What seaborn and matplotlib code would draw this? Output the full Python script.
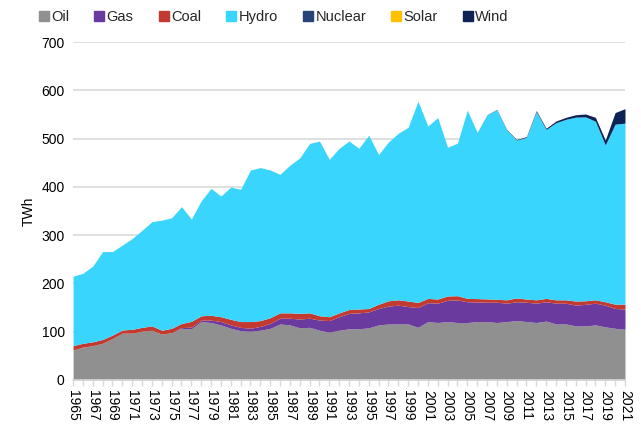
import matplotlib
matplotlib.use("Agg")
import matplotlib.pyplot as plt
from matplotlib.lines import Line2D
import seaborn as sns
import numpy as np

years = list(range(1965, 2022))

oil = [62, 68, 71, 76, 86, 97, 97, 101, 103, 95, 98, 107, 106, 121, 119, 114, 107, 102, 101, 103,
       107, 116, 114, 108, 109, 103, 99, 103, 106, 106, 108, 114, 116, 116, 116, 109, 121, 119, 121, 119,
       119, 121, 121, 119, 121, 123, 121, 119, 122, 116, 116, 112, 112, 114, 110, 107, 105]
gas = [0, 0, 0, 0, 0, 0, 0, 0, 0, 0, 0, 1.5, 3.4, 3, 5, 7, 7, 7, 6, 8,
       10, 12, 14, 18, 19, 21, 24, 28, 32, 33, 33, 34, 37, 39, 36, 41, 39, 40, 44, 46.6,
       43, 40.5, 40, 42, 38, 39, 40, 40, 40, 43, 43, 43, 44.6, 45, 45, 41, 42]
coal = [9, 8, 8, 8, 7, 6.5, 8, 8, 9, 8, 9, 8.5, 12, 9, 10, 10, 11.6, 12, 14, 12,
        12, 11, 11, 12, 11, 9, 8, 8, 8, 8, 7, 9, 11, 11, 11.5, 10.5, 9, 8.6, 9, 9,
        7, 7, 7, 6, 7, 8, 6.6, 7, 7, 7, 7, 8.5, 7.4, 7, 7, 9, 10]
hydro = [144, 145, 157, 182, 173, 176, 188, 201, 216, 228, 229, 242, 212, 238, 263, 250, 274, 274, 314, 317,
         306, 287, 306, 322, 351, 362, 326, 341, 349, 333, 359, 310, 329, 345, 360, 417, 357, 376, 308, 316,
         390, 344, 381, 393, 352, 327, 335, 390, 350, 367, 374, 381, 381, 370, 325, 373, 375]
nuclear = [0] * 57
solar = [0] * 57
wind = [0] * 41 + [0.2, 0.5, 0.6, 1, 1.2, 1.5, 2, 2.5, 3.5, 4, 5, 6, 8, 10, 24, 30]

labels = ["Oil", "Gas", "Coal", "Hydro", "Nuclear", "Solar", "Wind"]
colors = ["#909090", "#6A3A9E", "#C33B30", "#3AD5FC", "#264478", "#FFC000", "#0D2356"]

sns.set_theme(style="white")
plt.rcParams["font.family"] = ["Liberation Sans", "DejaVu Sans"]

fig = plt.figure(figsize=(6.41, 4.25), dpi=100)
ax = fig.add_axes([0.114, 0.106, 0.861, 0.795])

ax.stackplot(years, oil, gas, coal, hydro, nuclear, solar, wind,
             colors=colors, labels=labels, linewidth=0, zorder=2)

ax.set_xlim(1965, 2021)
ax.set_ylim(0, 700)
ax.set_yticks(range(0, 701, 100))
ax.yaxis.grid(True, color="#D9D9D9", linewidth=1.2, zorder=0)
ax.xaxis.grid(False)
ax.set_axisbelow(True)

ax.set_xticks(years, minor=True)
ax.set_xticks(list(range(1965, 2022, 2)))
ax.set_xticklabels([str(y) for y in range(1965, 2022, 2)], rotation=270, fontsize=10, color="#000000")
ax.tick_params(axis="x", which="both", direction="out", length=4, width=1, color="#D9D9D9",
               bottom=True, pad=3)
ax.tick_params(axis="y", length=0, labelsize=10, labelcolor="#000000", pad=6)

for s in ["top", "right", "left"]:
    ax.spines[s].set_visible(False)
ax.spines["bottom"].set_color("#D9D9D9")
ax.spines["bottom"].set_linewidth(1.2)
ax.spines["bottom"].set_zorder(3)

ax.set_ylabel("TWh", fontsize=10, color="#000000", labelpad=4)

handles = [Line2D([0], [0], marker="s", linestyle="none", markersize=7,
                  markerfacecolor=c, markeredgecolor=c) for c in colors]
fig.legend(handles, labels, loc="upper center", bbox_to_anchor=(0.427, 1.0), ncol=7,
           frameon=False, fontsize=10.5, handlelength=0.7, handletextpad=0.15,
           columnspacing=1.72, borderaxespad=0.3)

fig.savefig("out.png", dpi=100)
